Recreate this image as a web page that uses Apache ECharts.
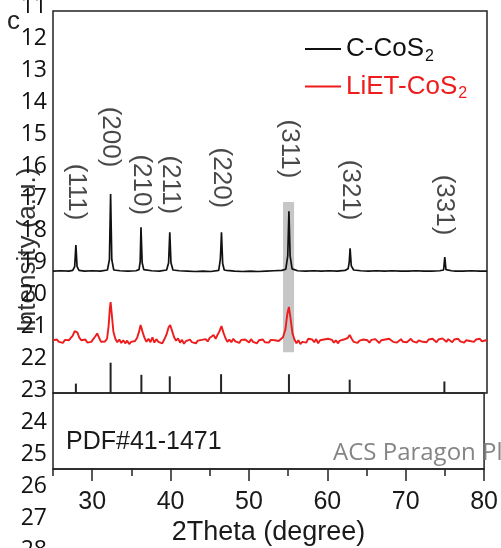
<!DOCTYPE html>
<html>
<head>
<meta charset="utf-8">
<script src="https://cdn.jsdelivr.net/npm/echarts@6/dist/echarts.min.js"></script>
<style>
  html, body { margin: 0; padding: 0; background: #fff; }
  #chart { width: 501px; height: 548px; }
</style>
</head>
<body>
<div id="chart"></div>
<script>
// XRD patterns of CoS2 samples, intensity in a.u. (baseline-referenced)
const C_COS2 = [
  [25.0, 0], [26.0, 1], [27.0, 0], [27.5, 2], [27.75, 12], [27.9, 68], [28.05, 12], [28.3, 2],
  [29.0, 0], [30.0, 1], [31.0, 0], [31.9, 3], [32.15, 30], [32.3, 202], [32.45, 30], [32.7, 3],
  [33.5, 1], [34.5, 0], [35.5, 1], [35.9, 4], [36.05, 25], [36.15, 115], [36.3, 22], [36.5, 4],
  [37.5, 1], [38.5, 0], [39.4, 3], [39.65, 22], [39.8, 102], [39.95, 22], [40.2, 3],
  [41.0, 1], [42.0, 0], [43.0, -1], [44.0, 0], [45.0, -1], [46.0, 2], [46.2, 30], [46.27, 58],
  [46.35, 102], [46.5, 20], [46.7, 3], [47.0, 2], [48.0, 0], [49.0, -1], [50.0, 0], [51.0, -1],
  [52.0, 0], [53.0, 1], [54.0, 2], [54.5, 5], [54.75, 40], [54.9, 157], [55.05, 40], [55.3, 6],
  [56.0, 1], [57.0, 0], [58.0, 1], [59.0, 0], [60.0, 1], [61.0, 0], [62.0, 2], [62.4, 6],
  [62.55, 25], [62.65, 60], [62.8, 14], [63.1, 3], [64.0, 1], [65.0, 0], [66.0, 1], [67.0, 0],
  [68.0, 1], [69.0, 0], [70.0, 0], [71.0, 1], [72.0, 0], [73.0, 0], [74.0, 1], [74.5, 3],
  [74.65, 37], [74.8, 4], [75.5, 1], [76.0, 0], [77.0, 0], [78.0, 1], [79.0, 0], [80.0, 0]
];

const LIET_COS2 = [
  [25.00, 2], [25.25, -3], [25.50, 4], [25.75, -2], [26.00, 1], [26.25, -5], [26.50, 3], [26.75, -1],
  [27.00, 2], [27.25, 6], [27.50, 14], [27.75, 26], [27.90, 31], [28.10, 22], [28.35, 8], [28.60, 2],
  [28.85, -3], [29.10, 4], [29.35, -4], [29.60, 1], [29.85, -2], [30.10, 5], [30.35, 12], [30.60, 20],
  [30.85, 8], [31.10, -2], [31.35, 3], [31.60, -1], [31.85, 6], [32.05, 40], [32.20, 85], [32.30, 102],
  [32.45, 70], [32.65, 25], [32.90, 6], [33.15, -3], [33.40, 4], [33.65, -5], [33.90, 2], [34.15, -6],
  [34.40, 1], [34.65, -8], [34.90, -2], [35.15, -6], [35.40, 0], [35.65, 8], [35.90, 24], [36.10, 42],
  [36.35, 24], [36.60, 8], [36.85, -2], [37.10, 6], [37.35, -3], [37.60, 10], [37.85, -4], [38.10, 5],
  [38.35, -2], [38.60, 3], [38.85, -6], [39.10, 4], [39.40, 18], [39.65, 36], [39.85, 42], [40.10, 26],
  [40.35, 10], [40.60, 1], [40.85, 7], [41.10, -4], [41.35, 3], [41.60, -7], [41.85, 0], [42.10, -5],
  [42.35, 4], [42.60, -3], [42.85, 2], [43.10, -6], [43.35, 1], [43.60, -4], [43.85, 3], [44.10, -2],
  [44.35, 5], [44.60, -1], [44.85, 8], [45.10, 12], [45.35, 16], [45.60, 6], [45.85, 10], [46.10, 26],
  [46.35, 39], [46.60, 22], [46.85, 8], [47.10, -2], [47.35, 4], [47.60, -3], [47.85, 6], [48.10, -1],
  [48.35, 2], [48.60, -5], [48.85, 3], [49.10, -2], [49.35, 4], [49.60, 0], [49.85, -4], [50.10, 5],
  [50.35, -2], [50.60, 3], [50.85, -6], [51.10, 2], [51.35, -1], [51.60, 4], [51.85, -3], [52.10, 1],
  [52.35, -4], [52.60, 3], [52.85, -2], [53.10, 2], [53.35, 5], [53.60, 0], [53.85, 4], [54.15, 10],
  [54.45, 30], [54.70, 72], [54.90, 89], [55.10, 60], [55.35, 20], [55.60, 4], [55.85, -6], [56.10, 2],
  [56.35, -8], [56.60, -2], [56.85, 3], [57.10, -4], [57.35, 6], [57.60, 10], [57.85, 4], [58.10, -3],
  [58.35, 5], [58.60, -6], [58.85, 2], [59.10, -3], [59.35, 4], [59.60, 0], [59.85, 6], [60.10, 9],
  [60.35, 3], [60.60, -4], [60.85, 2], [61.10, -6], [61.35, 1], [61.60, -3], [61.85, 4], [62.10, 0],
  [62.35, 8], [62.60, 16], [62.85, 6], [63.10, -2], [63.35, 3], [63.60, -5], [63.85, 1], [64.10, -3],
  [64.35, 4], [64.60, -1], [64.85, 2], [65.10, -4], [65.35, 3], [65.60, -2], [65.85, 5], [66.10, 0],
  [66.35, -5], [66.60, 2], [66.85, -3], [67.10, 4], [67.35, -1], [67.60, 6], [67.85, 2], [68.10, -2],
  [68.35, 3], [68.60, -4], [68.85, 1], [69.10, 5], [69.35, -2], [69.60, 3], [69.85, -3], [70.10, 2],
  [70.35, 6], [70.60, -1], [70.85, 3], [71.10, -4], [71.35, 2], [71.60, 5], [71.85, -2], [72.10, 3],
  [72.35, -3], [72.60, 4], [72.85, 0], [73.10, 6], [73.35, 1], [73.60, -3], [73.85, 4], [74.10, 2],
  [74.35, 7], [74.60, 3], [74.85, -2], [75.10, 5], [75.35, 0], [75.60, -3], [75.85, 4], [76.10, 1],
  [76.35, 6], [76.60, -1], [76.85, 3], [77.10, -4], [77.35, 2], [77.60, 5], [77.85, 0], [78.10, 3],
  [78.35, -2], [78.60, 4], [78.85, 1], [79.10, 6], [79.35, -1], [79.60, 3], [79.85, 2], [80.00, 0]
];

// Reference pattern PDF#41-1471: peak positions, Miller indices and relative intensities
const PEAK_2THETA = [27.9, 32.3, 36.2, 39.8, 46.3, 54.9, 62.6, 74.6];
const PEAK_HKL = ['(111)', '(200)', '(210)', '(211)', '(220)', '(311)', '(321)', '(331)'];
const PDF_INTENSITY = [31, 100, 60, 55, 62, 62, 44, 38];

const X_TICKS = [30, 40, 50, 60, 70, 80];
const X_MINOR_TICKS = [25, 35, 45, 55, 65, 75];

// Stacking offsets and layout of the upper panel (axis units 0..1000)
const OFFSET_C = 319;
const OFFSET_LIET = 136;
const LABEL_LEVEL = [526, 670, 545, 545, 563, 639, 531, 492];
const BAND = { x0: 54.15, x1: 55.55, y0: 107, y1: 500 };

const FONT = '"Liberation Sans", Arial, sans-serif';
const FRAME = '#222';

const chart = echarts.init(document.getElementById('chart'), null, { renderer: 'canvas' });

// manuscript line numbers running down the left margin
const lineNumbers = [];
for (let n = 11; n <= 28; n++) {
  lineNumbers.push({
    type: 'text', right: 454, top: 8 + (n - 11) * 32 - 13, z: 50,
    style: { text: String(n), font: '23px "Open Sans", sans-serif', fill: '#111', textAlign: 'right' }
  });
}

const option = {
  animation: false,
  backgroundColor: '#fff',
  grid: [
    { left: 53, right: 14, top: 11, height: 382, show: true, borderColor: FRAME, borderWidth: 1.5, backgroundColor: 'transparent' },
    { left: 53, right: 14, top: 393, height: 76, show: true, borderColor: FRAME, borderWidth: 1.5, backgroundColor: 'transparent' },
    { left: 53, right: 14, top: 343, height: 50, show: false }
  ],
  xAxis: [
    { gridIndex: 0, type: 'value', min: 25, max: 80, show: false },
    {
      gridIndex: 1, type: 'value', min: 25, max: 80, position: 'bottom',
      axisLine: { show: true, onZero: false, lineStyle: { color: FRAME, width: 1.5 } }, splitLine: { show: false },
      axisTick: { show: true, inside: false, length: 12, customValues: X_TICKS, lineStyle: { color: FRAME, width: 1.5 } },
      axisLabel: { show: true, customValues: X_TICKS, margin: 21, fontSize: 25, fontFamily: FONT, color: '#1a1a1a' },
      name: '2Theta (degree)', nameLocation: 'middle', nameGap: 50,
      nameTextStyle: { fontSize: 27, fontFamily: FONT, color: '#1a1a1a' }
    },
    {
      gridIndex: 1, type: 'value', min: 25, max: 80, position: 'bottom',
      axisLine: { show: false }, splitLine: { show: false },
      axisTick: { show: true, inside: false, length: 7, customValues: X_MINOR_TICKS, lineStyle: { color: FRAME, width: 1.5 } },
      axisLabel: { show: false }
    },
    { gridIndex: 2, type: 'value', min: 25, max: 80, show: false }
  ],
  yAxis: [
    { gridIndex: 0, type: 'value', min: 0, max: 1000, show: false },
    { gridIndex: 1, type: 'value', min: 0, max: 100, show: false },
    { gridIndex: 2, type: 'value', min: 0, max: 165, show: false }
  ],
  legend: {
    orient: 'vertical', left: 300, top: 31, itemGap: 9, itemWidth: 36, itemHeight: 2,
    icon: 'rect', data: ['C-CoS2', 'LiET-CoS2'],
    formatter: name => name === 'C-CoS2' ? '{k|C-CoS}{ks|2}' : '{r|LiET-CoS}{rs|2}',
    textStyle: {
      fontFamily: FONT,
      rich: {
        k: { fontSize: 26, color: '#111', fontFamily: FONT },
        ks: { fontSize: 16, color: '#111', fontFamily: FONT, padding: [15, 0, 0, 1] },
        r: { fontSize: 26, color: '#ee1c1c', fontFamily: FONT },
        rs: { fontSize: 16, color: '#ee1c1c', fontFamily: FONT, padding: [15, 0, 0, 1] }
      }
    }
  },
  series: [
    {
      name: 'C-CoS2', type: 'line', xAxisIndex: 0, yAxisIndex: 0, showSymbol: false, z: 3,
      color: '#111',
      lineStyle: { color: '#111', width: 1.7 },
      data: C_COS2.map(p => [p[0], p[1] + OFFSET_C]),
      markArea: {
        silent: true,
        itemStyle: { color: '#c6c6c6' },
        data: [[{ coord: [BAND.x0, BAND.y0] }, { coord: [BAND.x1, BAND.y1] }]]
      }
    },
    {
      name: 'LiET-CoS2', type: 'line', xAxisIndex: 0, yAxisIndex: 0, showSymbol: false, z: 4,
      color: '#ee1c1c',
      lineStyle: { color: '#ee1c1c', width: 1.9 },
      data: LIET_COS2.map(p => [p[0], p[1] + OFFSET_LIET])
    },
    {
      name: 'hkl', type: 'scatter', xAxisIndex: 0, yAxisIndex: 0, symbolSize: 0, z: 5, silent: true,
      data: PEAK_2THETA.map((x, i) => [x, LABEL_LEVEL[i]]),
      label: {
        show: true, position: 'inside', rotate: -90,
        formatter: p => PEAK_HKL[p.dataIndex],
        fontSize: 26, fontFamily: FONT, color: '#1a1a1a'
      }
    },
    {
      name: 'PDF#41-1471', type: 'bar', xAxisIndex: 3, yAxisIndex: 2, barWidth: 2, z: 3,
      itemStyle: { color: '#222' },
      data: PEAK_2THETA.map((x, i) => [x, PDF_INTENSITY[i]])
    }
  ],
  graphic: [
    {
      type: 'text', left: 66, top: 430, z: 10,
      style: { text: 'PDF#41-1471', font: '25px ' + FONT, fill: '#1a1a1a' }
    },
    {
      type: 'text', left: 333, top: 441, z: 10,
      style: { text: 'ACS Paragon Plus Environment', font: '24px "Open Sans", sans-serif', fill: '#858585' }
    },
    {
      type: 'text', x: 28, y: 250, rotation: Math.PI / 2, z: 8,
      style: { text: 'Intensity (a.u.)', font: '26px ' + FONT, fill: '#333', textAlign: 'center', textVerticalAlign: 'middle' }
    },
    {
      type: 'text', left: 7, top: 9, z: 10,
      style: { text: 'c', font: '26px ' + FONT, fill: '#222' }
    }
  ].concat(lineNumbers)
};

chart.setOption(option);
</script>
</body>
</html>
